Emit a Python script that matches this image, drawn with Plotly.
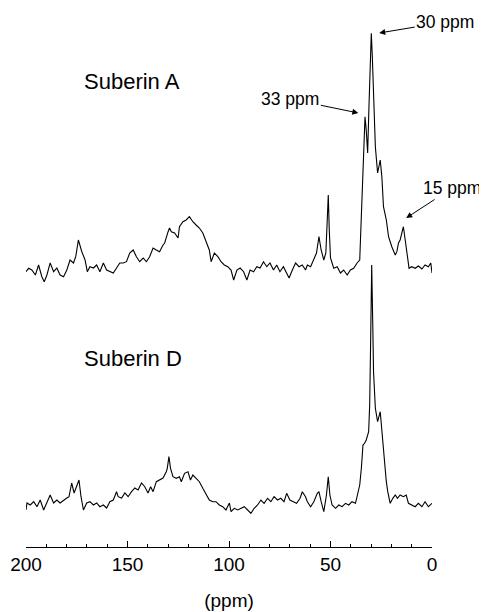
import plotly.graph_objects as go

# Chemical shift (ppm) and intensity (a.u., baseline = 0)
ppm_A = [200, 198.7, 197.1, 195.4, 193.8, 192.2, 191.0, 189.7, 188.1, 186.4, 184.8, 183.2, 181.5,
         179.9, 178.3, 176.6, 175.5, 174.2, 172.5, 170.9, 169.8, 168.5, 166.8, 165.2, 163.6, 161.9,
         160.3, 158.7, 157.0, 155.4, 153.8, 152.1, 150.5, 148.9, 147.2, 145.6, 144.0, 142.3, 140.7,
         139.1, 137.4, 135.8, 134.2, 132.5, 131.7, 130.0, 129.3, 128.4, 126.8, 125.1, 124.4, 122.7,
         121.1, 119.5, 117.8, 116.2, 114.6, 112.9, 111.3, 109.7, 108.8, 107.2, 105.5, 103.9, 102.3,
         100.6, 99.0, 97.7, 96.1, 94.5, 92.8, 91.2, 89.6, 87.9, 86.3, 84.7, 83.0, 81.4, 79.8, 78.1,
         76.5, 74.9, 73.2, 71.6, 70.4, 68.8, 67.2, 65.5, 63.9, 62.3, 61.4, 59.8, 58.2, 56.9, 55.7,
         54.6, 53.3, 52.3, 51.6, 51.1, 50.6, 50.0, 49.2, 48.4, 46.7, 45.1, 43.5, 41.8, 40.2, 38.6,
         36.9, 35.6, 35.0, 34.3, 33.7, 33.0, 32.4, 31.7, 31.0, 30.4, 29.9, 29.4, 28.8, 27.9, 26.8,
         25.5, 24.7, 23.9, 22.5, 21.4, 19.8, 18.1, 17.3, 16.5, 15.7, 14.9, 14.1, 13.2, 12.4, 11.3,
         10.0, 8.3, 6.7, 5.0, 3.4, 1.8, 0.6, 0]
int_A = [-1.7, 1.7, 0, -5, 5, -6.7, -11.7, -5, 7, -1.7, 2, -5, -6.7,
         0, 10, 7, 13.3, 30, 18.3, 10, -1.7, 3.3, 2, 5, -1.7, 7,
         0, -1.7, -3, 2, 7, 7, 8.3, 17, 20, 13.3, 8.3, 12, 8.3,
         13.3, 22, 20, 18.3, 25, 27, 38.3, 42, 38.3, 37, 32, 43.3, 48.3,
         50, 53.3, 48.3, 45, 42, 37, 28.3, 20, 8.3, 17, 13.3, 8.3, 5,
         3.3, 0, -10, 0, 2, -1.7, -10, 0, -1.7, 3.3, 2, 8.3, 3.3, 7, 0,
         5, -1.7, 3.3, -3, -8, 0, 7, 3.3, 5, 0, 5, 3.3, 10, 17, 33.3,
         20, 10, 17, 50, 75, 40, 12, 7, 1.7, 3.3, -3, 0, -5, 0, 1.7,
         7, 10, 43.3, 83.3, 117, 153.3, 140, 117, 167, 217, 236.7, 213.3, 167, 123.3, 97,
         110, 93.3, 63.3, 50, 33.3, 23.3, 15, 18.3, 27, 30, 37, 43.3, 30, 17, 1.7,
         3.3, 1.7, 4, 1, 5, 3.3, 7, -3]

ppm_D = [200, 199.5, 197.9, 196.2, 194.6, 193.0, 191.3, 189.7, 188.1, 186.4, 184.8, 183.2, 181.5,
         179.9, 178.8, 177.5, 176.3, 175.0, 173.9, 172.9, 171.7, 170.1, 168.5, 166.8, 165.2, 163.6,
         161.9, 160.3, 158.7, 157.0, 155.4, 154.6, 152.9, 151.3, 149.7, 148.0, 146.4, 144.8, 143.1,
         141.5, 139.9, 138.6, 137.4, 135.8, 134.2, 132.5, 130.9, 130.4, 129.6, 128.8, 127.6, 126.0,
         124.4, 123.5, 121.9, 120.2, 119.0, 117.8, 116.2, 114.6, 112.9, 111.3, 109.7, 108.0, 106.4,
         104.8, 103.1, 101.5, 99.8, 99.0, 97.4, 95.7, 94.1, 92.5, 90.8, 89.2, 87.6, 85.9, 84.3,
         82.7, 81.0, 79.4, 77.8, 76.1, 74.5, 72.9, 71.6, 70.0, 68.3, 66.7, 65.0, 63.9, 62.3, 61.4,
         59.8, 58.2, 56.5, 55.7, 54.6, 53.3, 52.0, 51.1, 50.3, 49.2, 47.5, 45.9, 44.3, 42.6, 41.0,
         39.4, 37.7, 36.6, 35.6, 34.8, 34.0, 33.2, 32.4, 31.2, 30.7, 30.2, 29.7, 29.2, 28.8, 27.9,
         26.8, 25.5, 24.7, 23.5, 22.5, 21.8, 20.6, 19.3, 18.1, 17.0, 15.7, 14.1, 12.7, 11.6, 10.0,
         8.3, 6.7, 5.0, 3.4, 1.8, 0]
int_D = [-3, 4, 2, 5.3, 0.3, 7, -3, 5.3, 12, 4, 7, 4, 7,
         9, 10.3, 24, 14, 20.3, 27, 10.3, -3, 4, 5.3, 2, 4, 0.3,
         2, -1, 5.3, 7, 15.3, 10.3, 9, 14, 10.3, 15.3, 19, 17, 24,
         20.3, 14, 20.3, 15.3, 25.3, 27, 29, 35.3, 38.7, 50.3, 38.7, 30.3, 28.7,
         30.3, 25.3, 33.7, 35.3, 27, 32, 28.7, 25.3, 18.7, 12, 7, 5.3, 5.3,
         2, 0.3, -3, 4, -4.7, -1.3, -3, -1.3, 0.3, -3, -6.3, -1.3, 2, 7,
         3.7, 8.7, 5.3, 10.3, 7, 8.7, 5.3, 13.7, 7, 5.3, 3.7, 8.7, 15.3, 10.3, 5.3,
         0.3, 5.3, 13.7, 15.3, 5.3, -4.7, 12, 30.3, 12, 2, -1.3, 2, 0.3, 3.7, 2,
         5.3, 3.7, 12, 22, 38.7, 62, 63.7, 67, 75.3, 102, 169, 242, 185.3, 135.3, 98.7,
         85.3, 95.3, 75.3, 45.3, 25.3, 15.3, 3.7, 8.7, 12, 8.7, 12, 10.3, 12, 3.7, 2,
         0.3, 3.7, 0.3, 5.3, 0.3, 3.7]

labels = ["Suberin A", "Suberin D"]
offset_A = 237  # vertical stacking offset of the upper spectrum

FONT = "Liberation Sans, Arial, sans-serif"

fig = go.Figure()
fig.add_trace(go.Scatter(x=ppm_A, y=[v + offset_A for v in int_A], mode="lines",
                         line=dict(color="black", width=1.1), name=labels[0], showlegend=False))
fig.add_trace(go.Scatter(x=ppm_D, y=int_D, mode="lines",
                         line=dict(color="black", width=1.1), name=labels[1], showlegend=False))

fig.add_annotation(x=148, y=426, text=labels[0], showarrow=False,
                   font=dict(size=22, color="black", family=FONT))
fig.add_annotation(x=147.5, y=149, text=labels[1], showarrow=False,
                   font=dict(size=22, color="black", family=FONT))

arrow_kw = dict(showarrow=True, arrowhead=2, arrowsize=1.2, arrowwidth=1, arrowcolor="black",
                standoff=0, font=dict(size=17.5, color="black", family=FONT), axref="pixel", ayref="pixel")
fig.add_annotation(x=26.0, y=474, text="30 ppm", ax=66, ay=-11, **arrow_kw)
fig.add_annotation(x=36.3, y=394, text="33 ppm", ax=-68, ay=-14, **arrow_kw)
fig.add_annotation(x=12.7, y=289, text="15 ppm", ax=46, ay=-30, **arrow_kw)

fig.update_layout(
    width=479, height=604,
    margin=dict(l=16, r=55, t=2, b=65),
    paper_bgcolor="white", plot_bgcolor="white",
    font=dict(family=FONT, color="black"),
    xaxis=dict(range=[200, 0], showgrid=False, zeroline=False,
               showline=True, linecolor="black", linewidth=1,
               ticks="inside", ticklen=6, tickcolor="black", tickwidth=1,
               tickmode="linear", tick0=0, dtick=50,
               minor=dict(ticks="inside", ticklen=3, dtick=10, tick0=0, tickcolor="black", showgrid=False),
               tickfont=dict(size=19, color="black", family=FONT),
               title=dict(text="(ppm)", font=dict(size=19, color="black", family=FONT), standoff=19)),
    yaxis=dict(range=[-40, 497], visible=False, showgrid=False, zeroline=False),
)

fig.write_html("out.html")
